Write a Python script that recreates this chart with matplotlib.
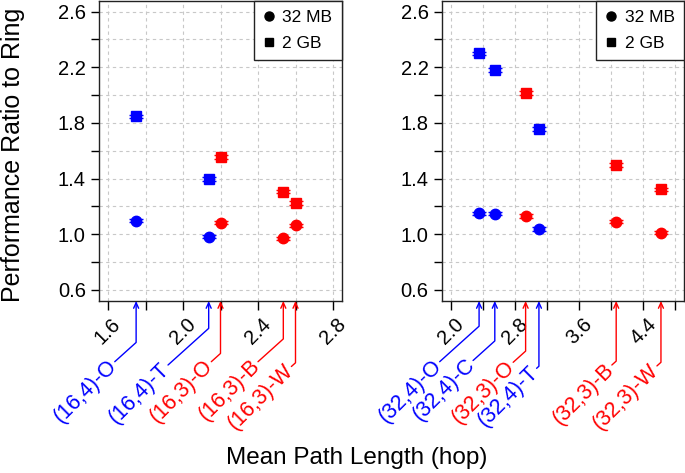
import matplotlib
matplotlib.use("Agg")
import matplotlib.pyplot as plt
import numpy as np

plt.rcParams['font.family'] = ['Liberation Sans', 'DejaVu Sans']

# ---------------- data ----------------
left_labels = ["(16,4)-O", "(16,4)-T", "(16,3)-O", "(16,3)-B", "(16,3)-W"]
left_colors = ["blue", "blue", "red", "red", "red"]
left_x = [1.75, 2.137, 2.20, 2.535, 2.60]
left_32mb = [1.096, 0.981, 1.084, 0.972, 1.063]
left_2gb = [1.847, 1.396, 1.554, 1.307, 1.224]
left_err32 = [0.010, 0.010, 0.010, 0.010, 0.010]
left_err2g = [0.012, 0.012, 0.012, 0.012, 0.012]

right_labels = ["(32,4)-O", "(32,4)-C", "(32,3)-O", "(32,4)-T", "(32,3)-B", "(32,3)-W"]
right_colors = ["blue", "blue", "red", "blue", "red", "red"]
right_x = [2.354, 2.55, 2.934, 3.10, 4.063, 4.621]
right_32mb = [1.149, 1.147, 1.132, 1.037, 1.091, 1.012]
right_2gb = [2.300, 2.180, 2.015, 1.756, 1.497, 1.322]
right_err32 = [0.012, 0.012, 0.012, 0.012, 0.012, 0.012]
right_err2g = [0.012, 0.012, 0.012, 0.012, 0.012, 0.012]

left_xticks = [1.6, 1.8, 2.0, 2.2, 2.4, 2.6, 2.8]
left_xticklabels = ["1.6", "", "2.0", "", "2.4", "", "2.8"]
right_xticks = [2.0, 2.4, 2.8, 3.2, 3.6, 4.0, 4.4, 4.8]
right_xticklabels = ["2.0", "", "2.8", "", "3.6", "", "4.4", ""]
yticks = [0.6, 0.8, 1.0, 1.2, 1.4, 1.6, 1.8, 2.0, 2.2, 2.4, 2.6]
yticklabels = ["0.6", "", "1.0", "", "1.4", "", "1.8", "", "2.2", "", "2.6"]

legend_labels = ["32 MB", "2 GB"]
xlabel = "Mean Path Length (hop)"
ylabel = "Performance Ratio to Ring"

# label placement (layout): end point of each callout label
left_lab_pos = [(1.636, -0.202), (1.920, -0.213), (2.151, -0.202), (2.400, -0.202), (2.578, -0.218)]
right_lab_pos = [(1.8625, -0.202), (2.279, -0.198), (2.779, -0.204), (3.071, -0.224), (4.009, -0.213), (4.571, -0.216)]

# ---------------- figure ----------------
W, H = 685, 473
fig = plt.figure(figsize=(W / 100, H / 100), dpi=100)

ax_l = fig.add_axes([99 / W, 1 - 301 / H, 243 / W, 300.5 / H])
ax_r = fig.add_axes([441.7 / W, 1 - 301 / H, 242.6 / W, 300.5 / H])

def setup(ax, xlim, xticks, xticklabels):
    ax.set_xlim(*xlim)
    ax.set_ylim(0.52, 2.68)
    ax.set_xticks(xticks)
    ax.set_xticklabels(xticklabels, rotation=45, fontsize=14.5)
    ax.set_yticks(yticks)
    ax.set_yticklabels(yticklabels, fontsize=14.5)
    ax.tick_params(axis='x', length=6.5, width=1, pad=3, direction='out')
    ax.tick_params(axis='y', length=5.5, width=1, pad=4, direction='out')
    ax.grid(True, color='#c8c8c8', linestyle=(0, (3, 3)), linewidth=0.8)
    ax.set_axisbelow(True)
    for s in ax.spines.values():
        s.set_linewidth(1.0)
        s.set_color('#222222')

def draw_panel(ax, xs, y32, y2g, e32, e2g, colors, labels, labpos):
    for i in range(len(xs)):
        c = colors[i]
        ax.errorbar(xs[i], y32[i], yerr=e32[i], fmt='o', color=c, ms=7.5,
                    mec=c, capsize=5, capthick=1, elinewidth=1, zorder=3)
        ax.errorbar(xs[i], y2g[i], yerr=e2g[i], fmt='s', color=c, ms=7.5,
                    mec=c, capsize=5, capthick=1, elinewidth=1, zorder=3)
        lx, ly = labpos[i]
        ax.annotate('', xy=(xs[i], 0), xycoords=('data', 'axes fraction'),
                    xytext=(lx, ly), textcoords=('data', 'axes fraction'),
                    annotation_clip=False,
                    arrowprops=dict(arrowstyle='->,head_length=0.4,head_width=0.18',
                                    color=c, lw=1,
                                    connectionstyle='angle,angleA=42,angleB=90,rad=0',
                                    shrinkA=0, shrinkB=0))
        ax.annotate(labels[i], xy=(lx, ly), xycoords=('data', 'axes fraction'),
                    xytext=(-1, -1), textcoords='offset points',
                    rotation=45, rotation_mode='anchor', ha='right', va='center',
                    color=c, fontsize=15.5, annotation_clip=False)
    h1, = ax.plot([], [], 'o', color='black', ms=6.5)
    h2, = ax.plot([], [], 's', color='black', ms=6)
    leg = ax.legend([h1, h2], legend_labels, loc='upper right', borderaxespad=0,
                    fancybox=False, framealpha=1, edgecolor='#222222', fontsize=12.5,
                    handlelength=0.6, handletextpad=0.5, borderpad=0.55,
                    labelspacing=0.6)
    leg.get_frame().set_linewidth(1.0)

setup(ax_l, (1.552, 2.848), left_xticks, left_xticklabels)
setup(ax_r, (1.888, 4.912), right_xticks, right_xticklabels)
draw_panel(ax_l, left_x, left_32mb, left_2gb, left_err32, left_err2g, left_colors, left_labels, left_lab_pos)
draw_panel(ax_r, right_x, right_32mb, right_2gb, right_err32, right_err2g, right_colors, right_labels, right_lab_pos)

fig.text(13 / W, 1 - 155 / H, ylabel, rotation=90, ha='center', va='center', fontsize=18)
fig.text(357 / W, 1 - 458 / H, xlabel, ha='center', va='center', fontsize=17.5)

fig.savefig('out.png', dpi=100)
